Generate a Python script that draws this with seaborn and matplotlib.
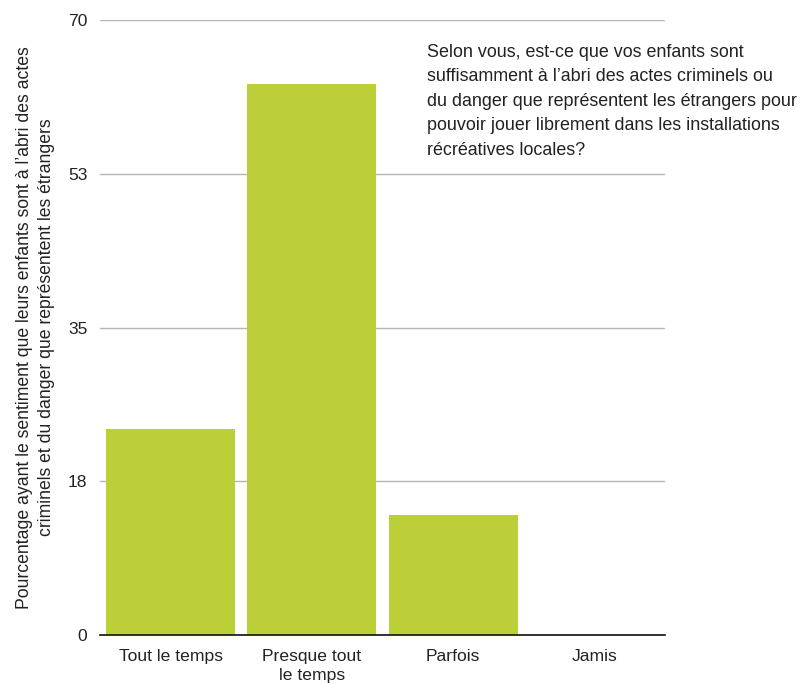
import matplotlib
matplotlib.use("Agg")
import matplotlib.pyplot as plt
import seaborn as sns
import pandas as pd

categories = ["Tout le temps", "Presque tout\nle temps", "Parfois", "Jamis"]
values = [23.5, 62.7, 13.7, 0.0]
tick_values = [0, 17.5, 35, 52.5, 70]
tick_labels = ["0", "18", "35", "53", "70"]

y_label = ("Pourcentage ayant le sentiment que leurs enfants sont à l’abri des actes\n"
           "criminels et du danger que représentent les étrangers")
question = ("Selon vous, est-ce que vos enfants sont\n"
            "suffisamment à l’abri des actes criminels ou\n"
            "du danger que représentent les étrangers pour\n"
            "pouvoir jouer librement dans les installations\n"
            "récréatives locales?")

sns.set_theme(style="white")
plt.rcParams["font.family"] = ["Liberation Sans", "DejaVu Sans"]

df = pd.DataFrame({"cat": categories, "val": values})

fig = plt.figure(figsize=(8.07, 6.84), dpi=100)
ax = fig.add_axes([100 / 807, 1 - 635 / 684, 565 / 807, 615 / 684])

sns.barplot(data=df, x="cat", y="val", color="#bdcf38", saturation=1,
            width=0.915, linewidth=0, ax=ax, zorder=3)

ax.set_xlim(-0.5, 3.5)
ax.set_ylim(0, 70)
ax.set_yticks(tick_values)
ax.set_yticklabels(tick_labels)
ax.yaxis.grid(True, color="#b5b5b5", linewidth=1.0, zorder=0)
ax.set_axisbelow(True)
for s in ["top", "right", "left"]:
    ax.spines[s].set_visible(False)
ax.spines["bottom"].set_color("#111111")
ax.spines["bottom"].set_linewidth(1.2)
ax.spines["bottom"].set_zorder(4)
ax.tick_params(axis="y", length=0, pad=9, labelsize=12.6, labelcolor="#222222")
ax.tick_params(axis="x", length=0, pad=10, labelsize=12.6, labelcolor="#222222")
for lbl in ax.get_xticklabels():
    lbl.set_linespacing(1.35)
ax.set_xlabel("")
ax.set_ylabel(y_label, fontsize=12.7, color="#222222", linespacing=1.42, labelpad=9)

fig.text(427 / 807, 1 - 44 / 684, question, fontsize=12.85, color="#222222",
         va="top", ha="left", linespacing=1.575)

fig.savefig("out.png", dpi=100)
